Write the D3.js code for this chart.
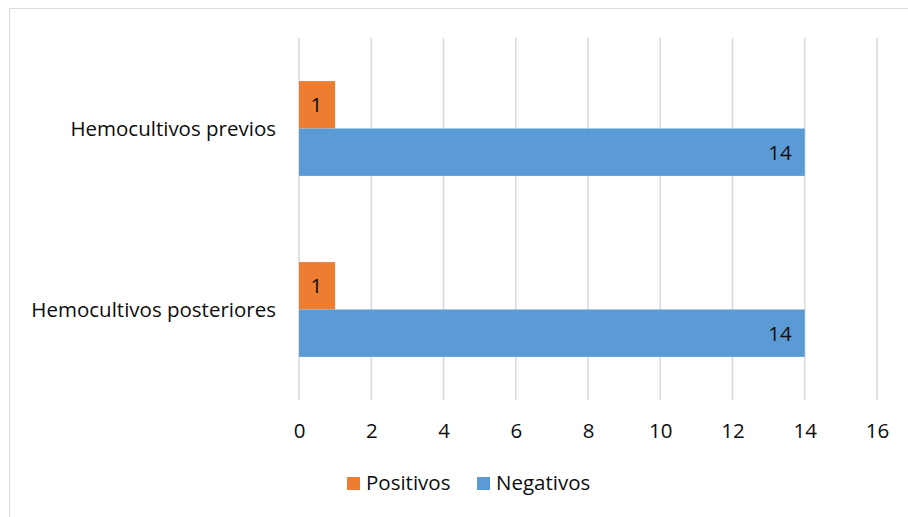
<!DOCTYPE html>
<html>
<head>
<meta charset="utf-8">
<script src="https://cdn.jsdelivr.net/npm/d3@7/dist/d3.min.js"></script>
<style>
  html, body { margin: 0; padding: 0; background: #fff; }
  svg { display: block; }
  text { font-family: "Open Sans", Lato, sans-serif; fill: #0d0d0d; }
</style>
</head>
<body>
<svg id="chart" width="908" height="517"></svg>
<script>
const categories = ["Hemocultivos previos", "Hemocultivos posteriores"];
const seriesNames = ["Positivos", "Negativos"];
const positivos = [1, 1];
const negativos = [14, 14];
const xTicks = [0, 2, 4, 6, 8, 10, 12, 14, 16];
const colors = ["#ED7D31", "#5B9BD5"];

const svg = d3.select("#chart");
const W = 908, H = 517;
const fontSize = 20.5;
const fontFam = "'Open Sans', Lato, sans-serif";

// outer border
svg.append("rect")
  .attr("x", 9.5).attr("y", 8.5)
  .attr("width", W + 10).attr("height", H + 10)
  .attr("fill", "none").attr("stroke", "#d9d9d9").attr("stroke-width", 1);

const x = d3.scaleLinear().domain([0, 16]).range([299, 877]);
const y = d3.scaleBand().domain(categories).range([38, 400]).paddingInner(0).paddingOuter(0);
const barH = 47.4;
const sub = d3.scaleBand().domain(seriesNames).range([-barH, barH]).padding(0);

// gridlines
svg.append("g").selectAll("line").data(xTicks).join("line")
  .attr("x1", d => x(d)).attr("x2", d => x(d))
  .attr("y1", 38).attr("y2", 400)
  .attr("stroke", "#d9d9d9").attr("stroke-width", 1.5);

// x axis tick labels
const xAxis = d3.axisBottom(x).tickValues(xTicks).tickSize(0).tickPadding(0);
const gx = svg.append("g").attr("transform", "translate(0,438)").call(xAxis);
gx.select(".domain").remove();
gx.selectAll("text")
  .attr("y", 0).attr("dy", 0)
  .style("font-family", fontFam)
  .style("font-size", fontSize + "px").attr("fill", "#0d0d0d");

// category labels
const yAxis = d3.axisLeft(y).tickSize(0).tickPadding(0);
const gy = svg.append("g").attr("transform", "translate(276,0)").call(yAxis);
gy.select(".domain").remove();
gy.selectAll("text")
  .attr("x", 0).attr("dy", "0.35em")
  .style("font-family", fontFam)
  .style("font-size", fontSize + "px").attr("fill", "#0d0d0d");

// bars
const rows = [];
categories.forEach((c, i) => {
  rows.push({ cat: c, series: "Positivos", value: positivos[i], color: colors[0] });
  rows.push({ cat: c, series: "Negativos", value: negativos[i], color: colors[1] });
});
const center = c => y(c) + y.bandwidth() / 2;

svg.append("g").selectAll("rect").data(rows).join("rect")
  .attr("x", x(0))
  .attr("y", d => center(d.cat) + sub(d.series))
  .attr("width", d => x(d.value) - x(0))
  .attr("height", sub.bandwidth())
  .attr("fill", d => d.color);

// value labels
svg.append("g").selectAll("text").data(rows).join("text")
  .attr("x", d => x(d.value) - 13)
  .attr("y", d => center(d.cat) + sub(d.series) + sub.bandwidth() / 2)
  .attr("dy", "0.36em")
  .attr("text-anchor", "end")
  .style("font-size", fontSize + "px")
  .text(d => d.value);

// legend
const legend = svg.append("g");
const legendX = [347, 477];
seriesNames.forEach((s, i) => {
  legend.append("rect")
    .attr("x", legendX[i]).attr("y", 477)
    .attr("width", 13).attr("height", 13)
    .attr("fill", colors[i]);
  legend.append("text")
    .attr("x", legendX[i] + 19).attr("y", 490)
    .style("font-size", fontSize + "px")
    .text(s);
});
</script>
</body>
</html>
